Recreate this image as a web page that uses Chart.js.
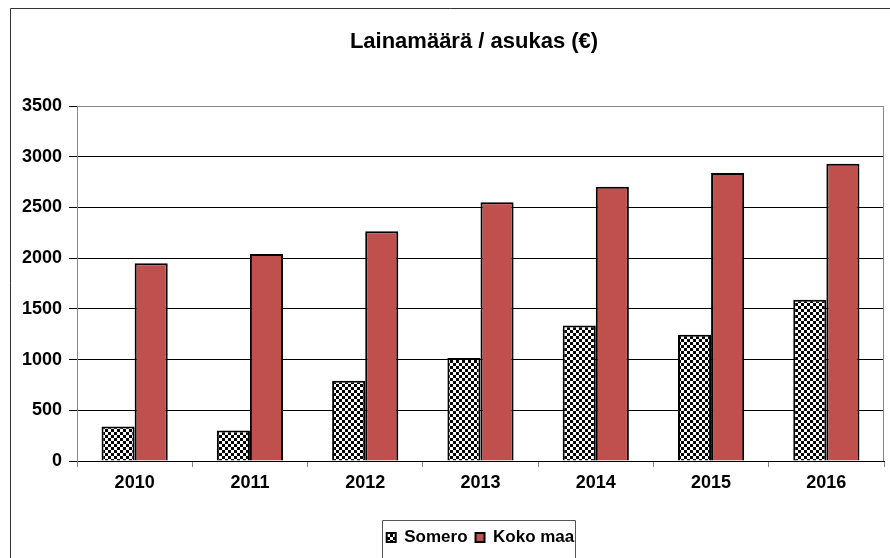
<!DOCTYPE html>
<html lang="fi">
<head>
    <meta charset="UTF-8">
    <title>Lainamäärä / asukas</title>
    <script src="https://cdn.jsdelivr.net/npm/chart.js"></script>
    <style>
        body { margin: 0; background: #fff; }
        canvas { display: block; }
    </style>
</head>
<body>
    <canvas id="laina-chart" width="890" height="558"></canvas>

    <script>
        // Data
        const chartTitle = 'Lainamäärä / asukas (€)';
        const years = ['2010', '2011', '2012', '2013', '2014', '2015', '2016'];
        const someroValues = [340, 300, 790, 1015, 1335, 1245, 1590];
        const kokoMaaValues = [1950, 2040, 2265, 2550, 2705, 2840, 2930];
        const seriesNames = ['Somero', 'Koko maa'];
        const yMin = 0, yMax = 3500, yStep = 500;

        const FONT = '"Liberation Sans", Arial, sans-serif';
        const LEGEND_PAD = 8;

        // Checkerboard fill for the Somero bars
        function checkerPattern(size) {
            const c = document.createElement('canvas');
            c.width = size * 2;
            c.height = size * 2;
            const g = c.getContext('2d');
            g.fillStyle = '#fff';
            g.fillRect(0, 0, c.width, c.height);
            g.fillStyle = '#000';
            g.fillRect(0, 0, size, size);
            g.fillRect(size, size, size, size);
            return g.createPattern(c, 'repeat');
        }

        // Outer frame, title, right border of plot area and the legend box
        const decorations = {
            id: 'decorations',
            afterUpdate(chart) {
                // centre the legend under the plot area instead of the whole canvas
                const lg = chart.legend;
                const area = chart.chartArea;
                const d = (area.left + area.right) / 2 - (lg.left + lg.right) / 2;
                lg.left += d;
                lg.right += d;
            },
            afterDraw(chart) {
                const ctx = chart.ctx;
                const area = chart.chartArea;
                const lg = chart.legend;
                ctx.save();

                // outer frame (cut off on the right and bottom in the original)
                ctx.strokeStyle = '#333';
                ctx.lineWidth = 1;
                ctx.beginPath();
                ctx.moveTo(10.5, 560);
                ctx.lineTo(10.5, 8.5);
                ctx.lineTo(892, 8.5);
                ctx.stroke();

                // plot area right edge
                ctx.strokeStyle = '#868686';
                ctx.beginPath();
                ctx.moveTo(Math.round(area.right) - 0.5, area.top);
                ctx.lineTo(Math.round(area.right) - 0.5, area.bottom);
                ctx.stroke();

                // title
                ctx.fillStyle = '#000';
                ctx.font = 'bold 22px ' + FONT;
                ctx.textAlign = 'center';
                ctx.textBaseline = 'alphabetic';
                ctx.fillText(chartTitle, 474, 48);

                // legend border, open at the bottom like the cropped original
                if (lg && lg.lineWidths && lg.lineWidths.length) {
                    const lw = lg.lineWidths[0];
                    const startX = (lg.left + LEGEND_PAD + lg.right - lw) / 2;
                    const left = Math.round(startX - 5) + 0.5;
                    const right = Math.round(startX + lw - LEGEND_PAD + 1) + 0.5;
                    const top = Math.round(lg.top) - 0.5;
                    ctx.strokeStyle = '#555';
                    ctx.beginPath();
                    ctx.moveTo(left, 560);
                    ctx.lineTo(left, top);
                    ctx.lineTo(right, top);
                    ctx.lineTo(right, 560);
                    ctx.stroke();
                }
                ctx.restore();
            }
        };

        const ctx = document.getElementById('laina-chart').getContext('2d');
        new Chart(ctx, {
            type: 'bar',
            data: {
                labels: years,
                datasets: [
                    {
                        label: seriesNames[0],
                        data: someroValues,
                        backgroundColor: checkerPattern(3),
                        borderColor: '#000',
                        borderWidth: 2,
                        borderSkipped: 'bottom',
                        barPercentage: 1,
                        categoryPercentage: 0.574
                    },
                    {
                        label: seriesNames[1],
                        data: kokoMaaValues,
                        backgroundColor: '#C0504D',
                        borderColor: '#000',
                        borderWidth: 2,
                        borderSkipped: 'bottom',
                        barPercentage: 1,
                        categoryPercentage: 0.574
                    }
                ]
            },
            options: {
                responsive: false,
                animation: false,
                layout: { padding: { left: 10, right: 6, top: 106, bottom: 2 } },
                scales: {
                    x: {
                        afterFit: s => { s.height = 60; },
                        grid: { drawOnChartArea: false, tickLength: 6, tickColor: '#868686', offset: true },
                        border: { color: '#000', width: 1 },
                        ticks: { color: '#000', padding: 5, font: { family: FONT, size: 18, weight: 'bold' } }
                    },
                    y: {
                        min: yMin,
                        max: yMax,
                        afterFit: s => { s.width = 67; },
                        grid: {
                            color: c => (c.tick && c.tick.value === yMax ? '#868686' : '#000'),
                            tickColor: '#000',
                            tickLength: 8,
                            lineWidth: 1
                        },
                        border: { color: '#868686', width: 1 },
                        ticks: {
                            stepSize: yStep,
                            color: '#000',
                            padding: 7,
                            font: { family: FONT, size: 18, weight: 'bold' },
                            callback: v => String(v)
                        }
                    }
                },
                plugins: {
                    title: { display: false },
                    tooltip: { enabled: false },
                    legend: {
                        position: 'bottom',
                        labels: {
                            color: '#000',
                            boxWidth: 9,
                            boxHeight: 9,
                            padding: LEGEND_PAD,
                            font: { family: FONT, size: 17, weight: 'bold' }
                        }
                    }
                }
            },
            plugins: [decorations]
        });
    </script>
</body>
</html>
